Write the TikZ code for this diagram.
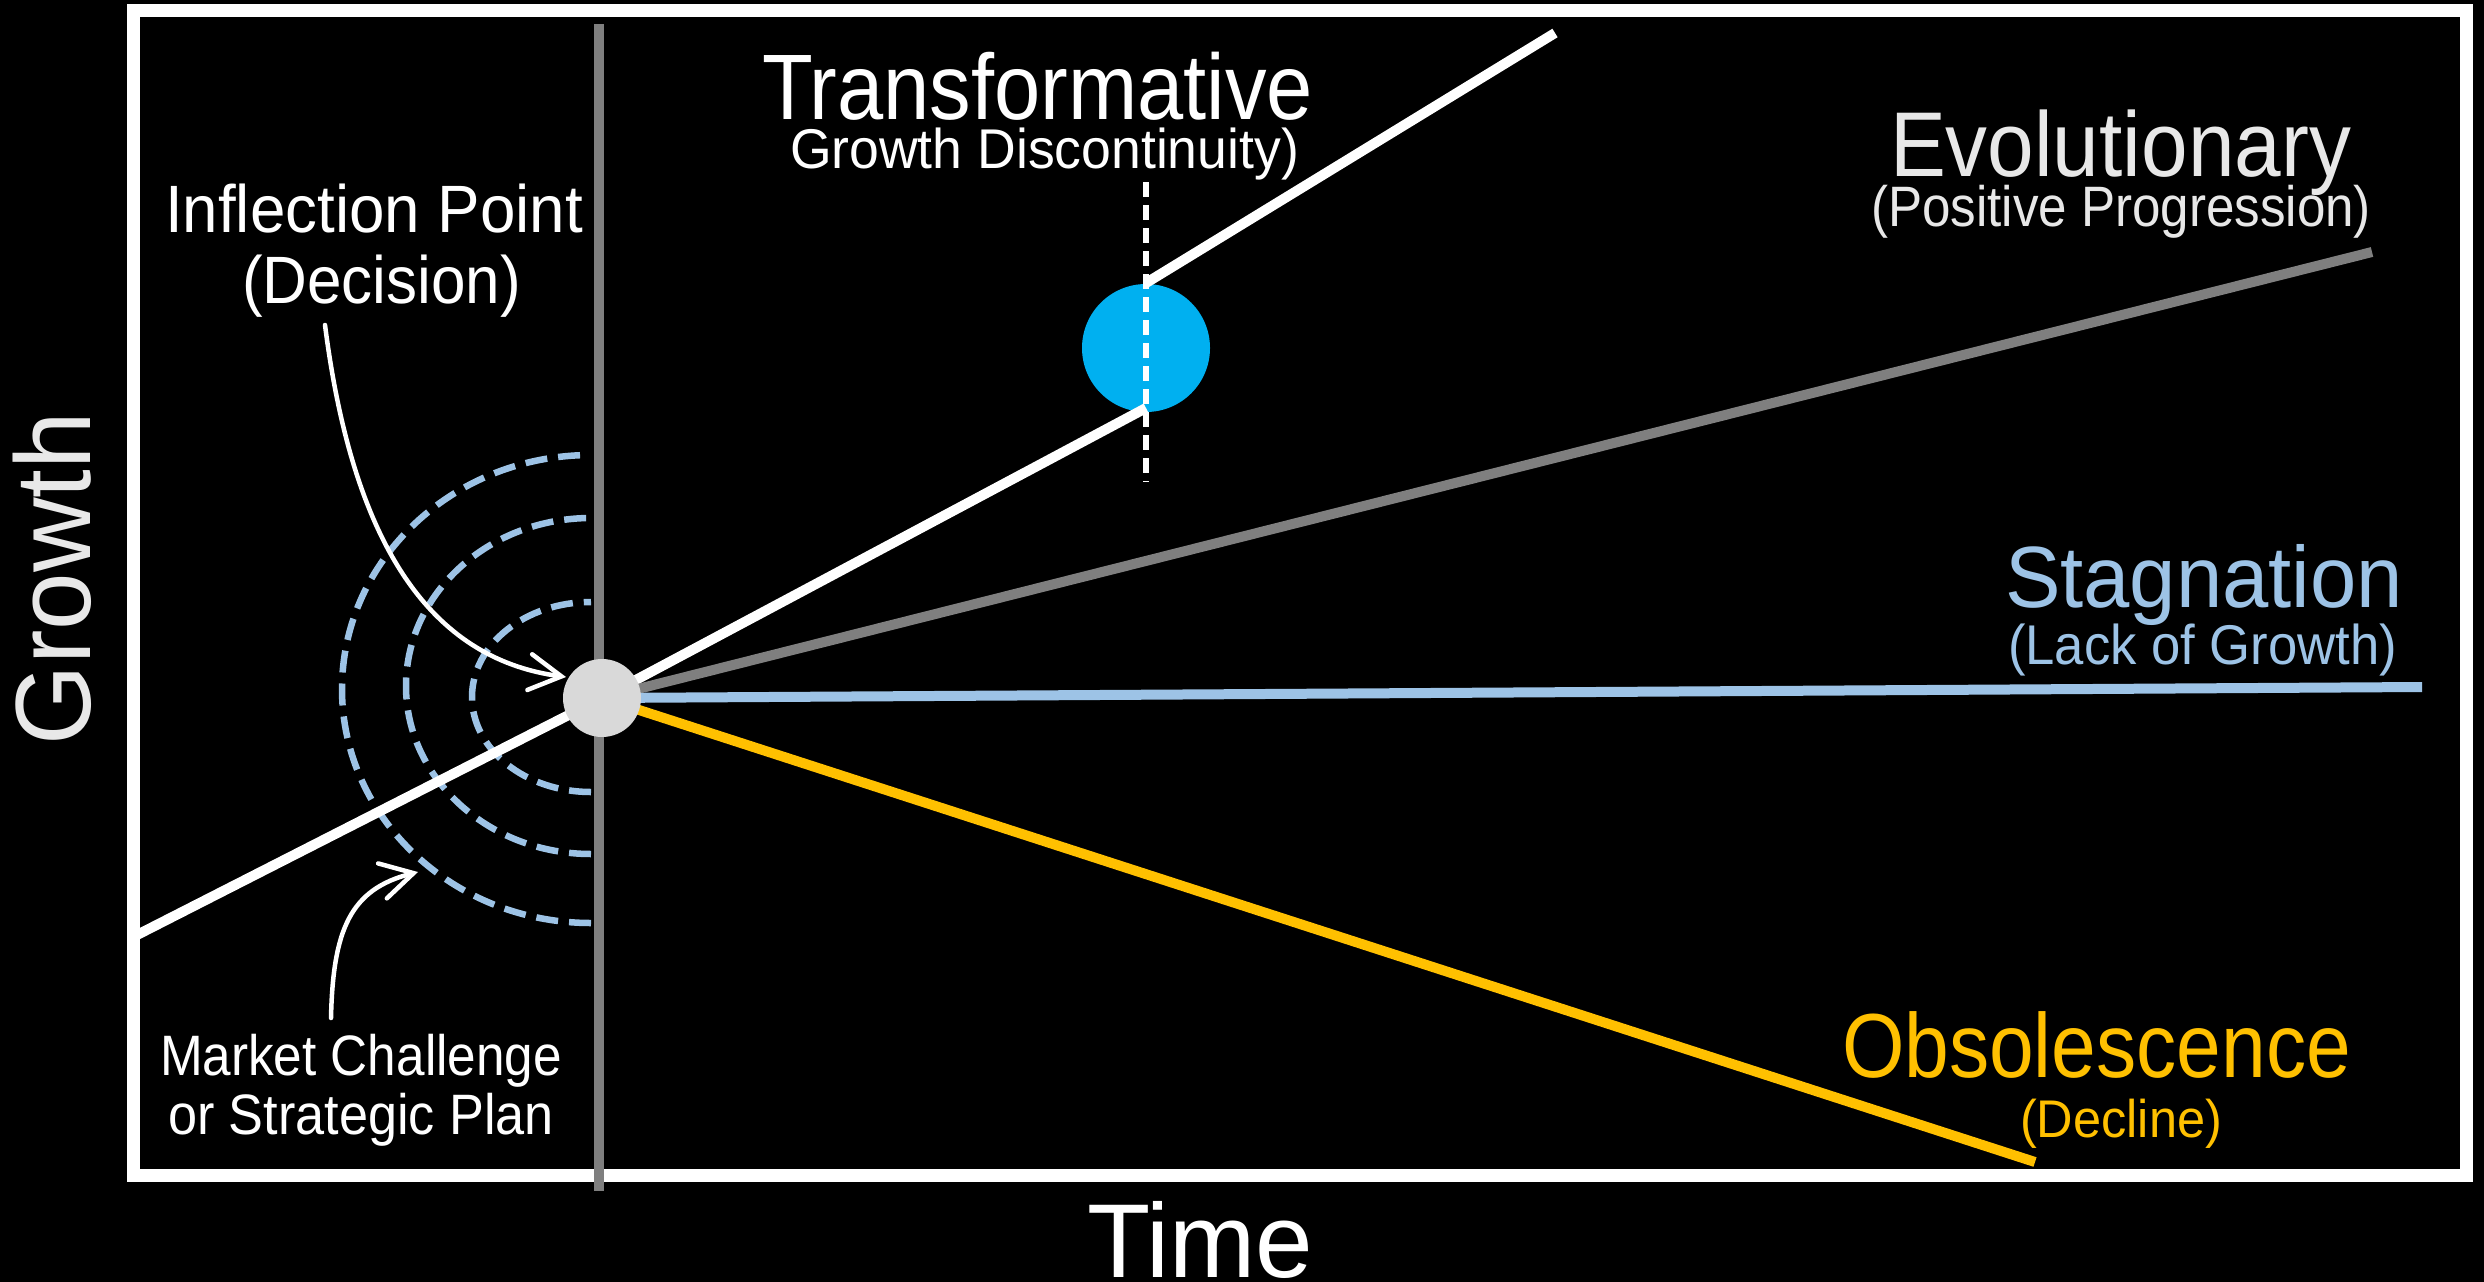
\documentclass[tikz,border=0pt]{standalone}
\usepackage{fontspec}
\setmainfont{Liberation Sans}
\usepackage{graphicx}
\usetikzlibrary{arrows.meta}
\definecolor{gline}{HTML}{7F7F7F}
\definecolor{sblue}{HTML}{9DC3E6}
\definecolor{cyanb}{HTML}{00B0F0}
\definecolor{oyel}{HTML}{FFC000}
\definecolor{ipgray}{HTML}{D9D9D9}
\definecolor{ltxt}{HTML}{E8E8E8}
\newcommand{\fitt}[3]{\resizebox{#1pt}{\height}{\fontsize{#2pt}{#2pt}\selectfont #3}}
\begin{document}
\begin{tikzpicture}[x=1pt,y=-1pt,
  lbl/.style={inner sep=0pt,outer sep=0pt,anchor=base west},
  mainline/.style={line width=10pt},
  arcdash/.style={draw=sblue,line width=6.5pt,dash pattern=on 22pt off 11pt},
  pointer/.style={draw=white,line width=4.5pt,line cap=round,-{Straight Barb[length=32pt,width=36pt,line cap=round]}}]
\fill[black] (0,0) rectangle (2484,1282);
\useasboundingbox (0,0) rectangle (2484,1282);
% frame
\draw[white,line width=13pt] (133,10) rectangle (2466,1175);
% coordinates
\coordinate (lstart) at (135,936);
\coordinate (tlo) at (1146,408);
\coordinate (thi) at (1146,283);
\coordinate (tend) at (1555,33);
\coordinate (evend) at (2372,252);
\coordinate (stend) at (2422,687);
\coordinate (obend) at (2035,1162);
\coordinate (vtop) at (599,24);
\coordinate (vbot) at (599,1191);
\coordinate (dtop) at (1146,182);
\coordinate (dbot) at (1146,482);
% blue circle
\node[circle,fill=cyanb,minimum size=128pt,inner sep=0pt] (bc) at (1146,348) {};
% dashed arcs
\draw[arcdash] (591,923) arc[start angle=90,end angle=270,x radius=249,y radius=234];
\draw[arcdash] (591,854) arc[start angle=90,end angle=270,x radius=185,y radius=168];
\draw[arcdash] (591,792) arc[start angle=90,end angle=270,x radius=119,y radius=95];
% vertical gray line
\draw[gline,line width=10pt] (vtop) -- (vbot);
% inflection node placeholder for center
\coordinate (ipc) at (602,698);
% lines
\draw[white,mainline] (lstart) -- (ipc);
\draw[white,mainline] (ipc) -- (tlo);
\draw[white,mainline] (thi) -- (tend);
\draw[gline,mainline] (ipc) -- (evend);
\draw[sblue,mainline] (ipc) -- (stend);
\draw[oyel,mainline] (ipc) -- (obend);
% dashed vertical
\draw[white,line width=5.5pt,dash pattern=on 15pt off 8pt] (dtop) -- (dbot);
% inflection circle
\node[circle,fill=ipgray,minimum size=78pt,inner sep=0pt] (ip) at (ipc) {};
% texts
\node[lbl,text=white] (t1) at (762,119) {\fitt{551}{93}{Transformative}};
\node[lbl,text=white] (t2) at (790,168) {\fitt{509}{56}{Growth Discontinuity)}};
\node[lbl,text=white] (t3) at (165,232) {\fitt{418}{67}{Inflection Point}};
\node[lbl,text=white] (t4) at (242,303) {\fitt{279}{67}{(Decision)}};
\node[lbl,text=ltxt] (t5) at (1890,176) {\fitt{461}{92}{Evolutionary}};
\node[lbl,text=ltxt] (t6) at (1871,226) {\fitt{500}{57}{(Positive Progression)}};
\node[lbl,text=sblue] (t7) at (2005,607) {\fitt{398}{87}{Stagnation}};
\node[lbl,text=sblue] (t8) at (2008,664) {\fitt{389}{56}{(Lack of Growth)}};
\node[lbl,text=oyel] (t9) at (1842,1077) {\fitt{509}{91}{Obsolescence}};
\node[lbl,text=oyel] (t10) at (2020,1137) {\fitt{202}{53}{(Decline)}};
\node[lbl,text=white] (t11) at (160,1075) {\fitt{402}{57}{Market Challenge}};
\node[lbl,text=white] (t12) at (168,1134) {\fitt{386}{57}{or Strategic Plan}};
\node[lbl,text=ltxt,rotate=90] (gr) at (90,745) {\fitt{333}{107}{Growth}};
\node[lbl,text=white] (tm) at (1087,1277) {\fitt{226}{105}{Time}};
% pointers
\coordinate (p1s) at (325,325);
\coordinate (p1e) at (566,677);
\draw[pointer] (p1s) .. controls (355,560) and (440,660) .. (p1e);
\coordinate (p2s) at (331,1018);
\coordinate (p2e) at (418,872);
\draw[pointer] (p2s) .. controls (333,930) and (350,889) .. (p2e);
\end{tikzpicture}
\end{document}
